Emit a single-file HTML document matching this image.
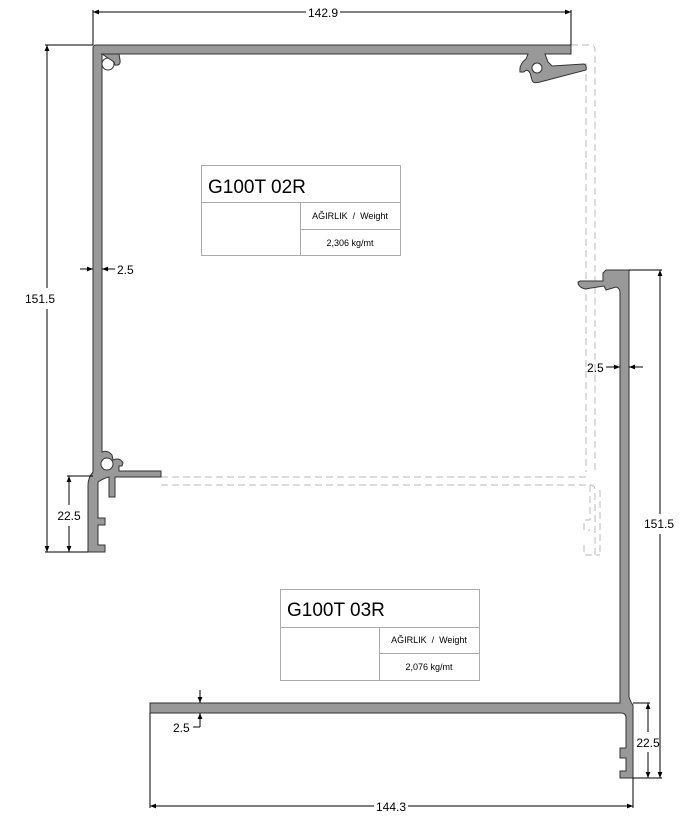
<!DOCTYPE html>
<html><head><style>html,body{margin:0;padding:0;background:#fff}svg{display:block}text{font-family:"Liberation Sans",sans-serif;fill:#000}</style></head><body>
<svg width="689" height="820" viewBox="0 0 689 820" xmlns="http://www.w3.org/2000/svg">
<defs>
<marker id="a" viewBox="0 0 10 10" refX="10" refY="5" markerWidth="8" markerHeight="6" orient="auto-start-reverse"><path d="M0,1 L10,5 L0,9 z" fill="#000"/></marker>
</defs>
<g fill="none" stroke="#bbb" stroke-width="1" stroke-dasharray="7,4">
<path d="M571,45 H590 Q595,45 595,50 V472 M586,63 V472"/>
<path d="M161,477 H586 M161,485 H590 Q595,485 595,490 V555 M590,485 V520 H584 V530 H590 M584,545 V555 H600 M600,490 V555"/>
</g>
<g fill="#999" stroke="#333" stroke-width="1">
<path d="M93,48 Q93,45 96,45 H571 V54 H545 L548,62 L552,66 L584,64 Q587,65 586,70 L540,82 Q533,84 532,80 L530,73 Q527,68 524,72 L520,72 Q519,64 526,59 L528,54 H102 V452 Q108,450 112,455 L113,460 Q120,457 123,463 L122,466 H119 V471 H161 V477 H115 V497 H109 V477 Q104,478 98,482 V518 H105 V525 H98 V545 H105 V552 H88 V485 Q88,478 93,472 Z"/>
<circle cx="537" cy="68" r="5" fill="#fff"/>
<circle cx="108" cy="64" r="6" fill="#fff"/>
<path d="M102,54 H119 L120,60 Q121,66 115,65 L114,62 Z" fill="#999"/>
<circle cx="107" cy="464" r="6" fill="#fff"/>
</g>
<g fill="#999" stroke="#333" stroke-width="1">
<path d="M606,270 H629 V697 Q631,703 633,705 V778 H620 V771 H626 V758 H620 V748 H626 V718 Q626,713 621,713 H150 V703 H620 V293 Q620,288 616,287 L606,290 L604,286 L585,289 Q578,287 578,282 L580,281 H603 V273 Z"/>
</g>
<g fill="none" stroke="#aaa" stroke-width="1">
<rect x="201.5" y="165.5" width="199" height="90"/><path d="M201,202.5 H400 M300.5,202 V255 M300,229.5 H400"/>
<rect x="280.5" y="589.5" width="199" height="91"/><path d="M280,627.5 H479 M379.5,627 V680 M379,653.5 H479"/>
</g>
<text x="208" y="193" font-size="19">G100T 02R</text>
<text x="350" y="219" font-size="9" text-anchor="middle">AĞIRLIK &#160;/ &#160;Weight</text>
<text x="350" y="246" font-size="9" text-anchor="middle">2,306 kg/mt</text>
<text x="287" y="616" font-size="19">G100T 03R</text>
<text x="429" y="643" font-size="9" text-anchor="middle">AĞIRLIK &#160;/ &#160;Weight</text>
<text x="429" y="670" font-size="9" text-anchor="middle">2,076 kg/mt</text>
<g stroke="#000" stroke-width="1" fill="none">
<path d="M93,10 V45 M571,10 V45"/>
<path d="M93,12 H306 M340,12 H571" marker-start="url(#a)" marker-end="url(#a)"/>
<path d="M45,45 H93 M45,552 H88"/>
<path d="M47,45 V288 M47,309 V552" marker-start="url(#a)" marker-end="url(#a)"/>
<path d="M67,476 H93"/>
<path d="M69,476 V505 M69,526 V552" marker-start="url(#a)" marker-end="url(#a)"/>
<path d="M80,269 H93" marker-end="url(#a)"/><path d="M115,269 H102" marker-end="url(#a)"/>
<path d="M629,270 H662 M633,778 H662 M633,703 H650"/>
<path d="M660,270 V514 M660,534 V778" marker-start="url(#a)" marker-end="url(#a)"/>
<path d="M648,703 V732 M648,752 V778" marker-start="url(#a)" marker-end="url(#a)"/>
<path d="M606,367 H620" marker-end="url(#a)"/><path d="M643,367 H629" marker-end="url(#a)"/>
<path d="M150,713 V808 M633,778 V808"/>
<path d="M150,806 H374 M408,806 H633" marker-start="url(#a)" marker-end="url(#a)"/>
<path d="M200,690 V703" marker-end="url(#a)"/><path d="M200,727 H193 M200,727 V713" marker-end="url(#a)"/>
</g>
<text x="323" y="17" font-size="12" text-anchor="middle">142.9</text>
<text x="40" y="303" font-size="12" text-anchor="middle">151.5</text>
<text x="69" y="520" font-size="12" text-anchor="middle">22.5</text>
<text x="117" y="274" font-size="12">2.5</text>
<text x="659" y="528" font-size="12" text-anchor="middle">151.5</text>
<text x="648" y="747" font-size="12" text-anchor="middle">22.5</text>
<text x="587" y="372" font-size="12">2.5</text>
<text x="391" y="811" font-size="12" text-anchor="middle">144.3</text>
<text x="173" y="732" font-size="12">2.5</text>
</svg>
</body></html>
